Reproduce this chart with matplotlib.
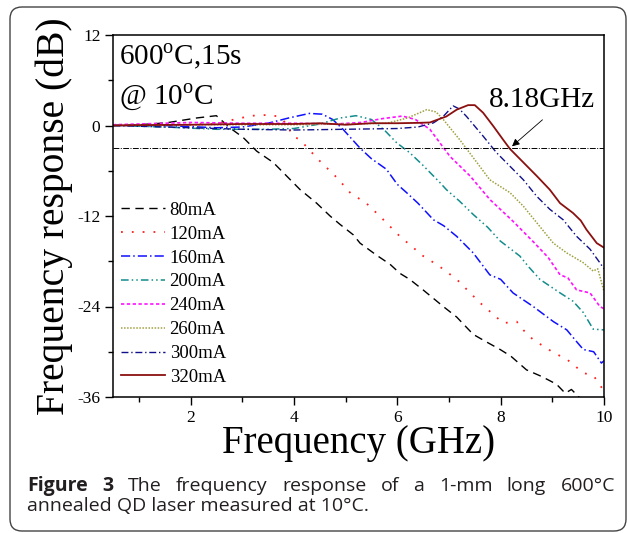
import matplotlib
matplotlib.use('Agg')
import matplotlib.pyplot as plt
from matplotlib.patches import FancyBboxPatch
from matplotlib.transforms import IdentityTransform

# frequency (GHz) / response (dB), one pair per bias current
f_80 = [0.5, 1.0, 1.53, 2.12, 2.5, 2.76, 3.02, 3.28, 3.6, 3.86, 4.12, 4.44, 4.7, 4.89, 5.15, 5.28,
        5.6, 5.86, 6.05, 6.24, 6.5, 6.89, 7.15, 7.47, 7.7, 7.99, 8.2, 8.5, 8.8, 9.08, 9.25, 9.37, 9.6]
r_80 = [0.0, 0.1, 0.35, 1.0, 1.3, -0.3, -1.6, -3.4, -4.9, -6.7, -8.5, -10.3, -12.0, -13.1, -14.5, -15.6,
        -17.2, -18.4, -19.6, -20.4, -21.8, -24.0, -25.4, -27.7, -28.6, -29.7, -30.6, -32.4, -33.3, -34.3,
        -35.5, -35.0, -36.6]

f_120 = [0.5, 1.5, 2.5, 2.9, 3.2, 3.5, 3.7, 3.85, 3.98, 4.12, 4.47, 4.83, 5.1, 5.4, 5.66, 6.05, 6.5,
         6.8, 7.15, 7.6, 8.05, 8.31, 8.45, 8.63, 9.02, 9.28, 9.6, 9.8, 10.0]
r_120 = [0.0, 0.1, 0.2, 0.9, 1.3, 1.4, 1.2, 0.3, -1.4, -1.9, -4.5, -6.9, -9.0, -10.3, -12.0, -14.7, -17.3,
         -18.6, -20.4, -23.5, -26.2, -26.0, -27.2, -28.4, -30.1, -31.0, -32.8, -33.2, -35.2]

f_160 = [0.5, 1.5, 2.5, 3.0, 3.5, 3.9, 4.3, 4.55, 4.75, 4.95, 5.28, 5.5, 5.79, 6.0, 6.18, 6.4, 6.7,
         6.9, 7.15, 7.47, 7.79, 8.0, 8.24, 8.63, 9.02, 9.28, 9.45, 9.6, 9.8, 9.95, 10.0]
r_160 = [0.0, 0.0, -0.3, -0.2, 0.3, 1.0, 1.6, 1.5, 0.8, -0.5, -3.0, -4.4, -5.8, -7.8, -8.9, -10.3, -12.5,
         -13.3, -14.7, -16.9, -19.8, -20.4, -22.2, -24.0, -26.0, -27.1, -28.5, -29.7, -30.0, -31.5, -31.2]

f_200 = [0.5, 1.5, 2.5, 3.5, 4.0, 4.5, 4.9, 5.2, 5.5, 5.75, 5.99, 6.24, 6.5, 6.83, 6.95, 7.2, 7.47,
         7.75, 7.99, 8.37, 8.55, 8.76, 9.15, 9.4, 9.6, 9.79, 10.0]
r_200 = [0.0, -0.2, -0.5, -0.5, -0.4, 0.2, 1.0, 1.3, 0.8, -0.6, -2.3, -3.6, -5.3, -7.6, -8.5, -10.0, -11.8,
         -13.5, -15.3, -17.3, -18.8, -20.4, -22.2, -23.3, -24.8, -27.0, -27.1]

f_240 = [0.5, 2.0, 3.0, 4.0, 4.8, 5.3, 5.7, 6.1, 6.35, 6.63, 7.02, 7.41, 7.79, 8.24, 8.63, 8.92, 9.15,
         9.3, 9.47, 9.73, 9.92, 10.0]
r_240 = [0.1, 0.4, 0.3, 0.3, 0.2, 0.4, 0.9, 1.25, 0.8, -0.5, -4.1, -6.7, -9.8, -12.7, -15.4, -17.5, -19.8,
         -20.2, -21.8, -22.2, -24.0, -24.3]

f_260 = [0.5, 2.0, 4.0, 5.0, 5.8, 6.2, 6.57, 6.75, 6.89, 7.21, 7.54, 7.79, 8.18, 8.44, 8.7, 9.02, 9.28,
         9.6, 9.79, 9.88, 10.0]
r_260 = [0.0, 0.1, 0.1, 0.2, 0.3, 1.0, 2.1, 1.8, 0.8, -1.9, -4.9, -7.2, -8.9, -10.7, -12.9, -15.6, -16.9,
         -18.2, -19.3, -19.0, -22.0]

f_300 = [0.5, 1.5, 3.0, 4.0, 5.0, 6.0, 6.4, 6.7, 6.89, 7.08, 7.2, 7.34, 7.66, 7.92, 8.18, 8.44, 8.7,
         8.95, 9.21, 9.47, 9.73, 9.92, 10.0]
r_300 = [0.0, -0.2, -0.5, -0.6, -0.5, -0.4, -0.2, 0.35, 1.2, 2.6, 2.2, 1.2, -1.4, -3.6, -5.4, -7.2, -9.4,
         -11.1, -12.5, -14.7, -16.4, -18.2, -19.0]

f_320 = [0.5, 1.0, 2.0, 3.0, 4.0, 4.5, 5.0, 5.5, 6.0, 6.4, 6.63, 6.95, 7.15, 7.37, 7.5, 7.66, 7.86,
         8.05, 8.18, 8.44, 8.7, 8.95, 9.15, 9.4, 9.55, 9.66, 9.86, 10.0]
r_320 = [0.0, 0.05, 0.1, 0.2, 0.2, 0.3, 0.1, 0.3, 0.3, 0.35, 0.4, 1.2, 2.1, 2.7, 2.7, 1.7, -0.1,
         -1.9, -3.1, -4.9, -6.7, -8.5, -10.3, -11.6, -12.6, -13.8, -15.6, -16.2]

labels = ['80mA', '120mA', '160mA', '200mA', '240mA', '260mA', '300mA', '320mA']
freqs = [f_80, f_120, f_160, f_200, f_240, f_260, f_300, f_320]
resps = [r_80, r_120, r_160, r_200, r_240, r_260, r_300, r_320]

colors = ['black', '#ff2020', '#1010ff', '#138c8c', '#ff10ff', '#a0a040', '#10108a', '#8b1010']
styles = [(0, (6, 4)), (0, (1, 5)), (0, (6, 2, 1, 2)), (0, (5, 2, 1, 2, 1, 2)),
          (0, (2, 1.5)), (0, (1, 1)), (0, (5, 2, 1, 2)), '-']
widths = [1.0, 1.3, 1.1, 1.1, 1.2, 1.1, 1.0, 1.3]

cutoff = 8.18   # GHz, -3 dB point of the 320mA curve

plt.rcParams['font.family'] = 'Liberation Serif'
plt.rcParams['mathtext.fontset'] = 'custom'
plt.rcParams['mathtext.rm'] = 'Liberation Serif'
plt.rcParams['axes.unicode_minus'] = False

fig = plt.figure(figsize=(6.27, 5.33), dpi=100)
ax = fig.add_axes([113 / 627, 1 - 397 / 533, (604 - 113) / 627, (397 - 35) / 533])

for f, r, lab, c, ls, lw in zip(freqs, resps, labels, colors, styles, widths):
    ax.plot(f, r, color=c, linestyle=ls, lw=lw, label=lab)

ax.axhline(-3, color='black', lw=0.7, linestyle=(0, (6, 1.5, 1, 1.5)))

ax.set_xlim(0.5, 10)
ax.set_ylim(-36, 12)
ax.set_xticks([2, 4, 6, 8, 10])
ax.set_xticks([1, 3, 5, 7, 9], minor=True)
ax.set_yticks([-36, -24, -12, 0, 12])
ax.set_yticks([-30, -18, -6, 6], minor=True)
ax.tick_params(which='both', direction='out', labelsize=12.5, width=1.0)
ax.tick_params(which='major', length=6, pad=3)
ax.tick_params(which='minor', length=3.5)
for s in ax.spines.values():
    s.set_linewidth(1.1)

ax.set_xlabel('Frequency (GHz)', fontsize=28, labelpad=0)
ax.set_ylabel('Frequency response (dB)', fontsize=28.5, labelpad=3)

ax.text(0.62, 9.2, r'600$^{\mathrm{o}}$C,15s', fontsize=21, va='center')
ax.text(0.62, 3.8, r'@ 10$^{\mathrm{o}}$C', fontsize=21, va='center')
ax.text(7.78, 2.4, '8.18GHz', fontsize=21, va='baseline')
ax.annotate('', xy=(cutoff, -3.0), xytext=(8.85, 1.0),
            arrowprops=dict(arrowstyle='-|>', lw=0.6, color='black', mutation_scale=11))

ax.legend(loc='center left', bbox_to_anchor=(0.016, 0.285), frameon=False, fontsize=13.5,
          handlelength=2.35, handletextpad=0.25, labelspacing=0.36, borderpad=0, borderaxespad=0)

# rounded frame round the whole figure
frame = FancyBboxPatch((10, 2), 616, 524, boxstyle='round,pad=0,rounding_size=12',
                       transform=IdentityTransform(), fill=False, ec='#444444', lw=1.0)
fig.add_artist(frame)

# caption, first line justified
line1 = [('Figure', 'bold'), ('3', 'bold'), ('The', 'normal'), ('frequency', 'normal'),
         ('response', 'normal'), ('of', 'normal'), ('a', 'normal'), ('1-mm', 'normal'),
         ('long', 'normal'), ('600°C', 'normal')]
line2 = 'annealed QD laser measured at 10°C.'
cap_font = 'Open Sans'
cap_size = 14

renderer = fig.canvas.get_renderer()
words = []
total = 0
for w, wt in line1:
    t = fig.text(0, (533 - 491) / 533, w, fontsize=cap_size, fontweight=wt,
                 family=cap_font, color='#231f20', va='baseline')
    width = t.get_window_extent(renderer).width
    words.append((t, width))
    total += width
x0, x1 = 27, 615
gap = (x1 - x0 - total) / (len(words) - 1)
x = x0
for t, width in words:
    t.set_x(x / 627)
    x += width + gap

fig.text(27 / 627, (533 - 510.5) / 533, line2, fontsize=cap_size, family=cap_font,
         color='#231f20', va='baseline')

fig.savefig('out.png', dpi=100)
